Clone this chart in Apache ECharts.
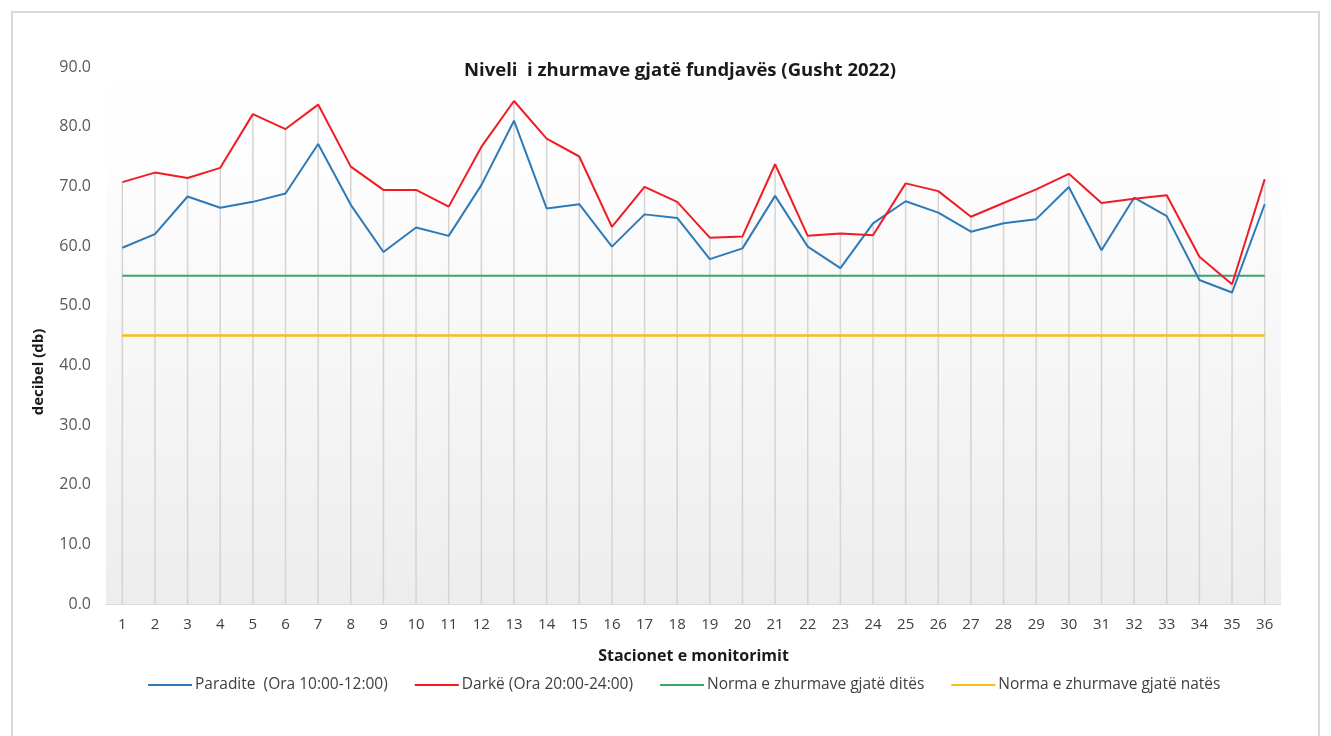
<!DOCTYPE html>
<html>
<head>
<meta charset="utf-8">
<script src="https://cdn.jsdelivr.net/npm/echarts@6/dist/echarts.min.js"></script>
<style>
html,body{margin:0;padding:0;background:#fff;}
#chart{width:1331px;height:736px;}
</style>
</head>
<body>
<div id="chart"></div>
<script>
const stations = ['1','2','3','4','5','6','7','8','9','10','11','12','13','14','15','16','17','18','19','20','21','22','23','24','25','26','27','28','29','30','31','32','33','34','35','36'];
const morning = [59.7,62.0,68.3,66.4,67.4,68.8,77.1,66.9,59.0,63.1,61.7,70.2,81.0,66.3,67.0,59.9,65.3,64.7,57.8,59.6,68.4,59.9,56.3,63.8,67.5,65.6,62.4,63.8,64.5,69.9,59.3,68.1,65.0,54.3,52.2,67.0];
const evening = [70.7,72.3,71.4,73.1,82.1,79.6,83.7,73.3,69.4,69.4,66.6,76.6,84.3,78.0,75.0,63.2,69.9,67.4,61.4,61.6,73.7,61.7,62.1,61.8,70.5,69.2,64.9,67.2,69.5,72.1,67.2,67.9,68.5,58.2,53.6,71.2];
const dayNorm = [55,55,55,55,55,55,55,55,55,55,55,55,55,55,55,55,55,55,55,55,55,55,55,55,55,55,55,55,55,55,55,55,55,55,55,55];
const nightNorm = [45,45,45,45,45,45,45,45,45,45,45,45,45,45,45,45,45,45,45,45,45,45,45,45,45,45,45,45,45,45,45,45,45,45,45,45];
const seriesNames = ['Paradite  (Ora 10:00-12:00)','Darkë (Ora 20:00-24:00)','Norma e zhurmave gjatë ditës','Norma e zhurmave gjatë natës'];
const yTicks = {min:0, max:90, interval:10};

const dropLines = morning.map((v,i)=>Math.max(v, evening[i]));

const FONT = '"Open Sans", Lato, sans-serif';
const chart = echarts.init(document.getElementById('chart'), null, {renderer:'canvas'});
chart.setOption({
  backgroundColor:'#ffffff',
  animation:false,
  textStyle:{fontFamily:FONT},
  graphic:[
    {type:'rect', shape:{x:12,y:12,width:1307,height:740}, style:{fill:'none', stroke:'#d9d9d9', lineWidth:2}, silent:true},
    {type:'text', x:39, y:372, rotation:Math.PI/2, silent:true,
     style:{text:'decibel (db)', fill:'#1a1a1a', font:'bold 15px "Open Sans", Lato, sans-serif', align:'center', verticalAlign:'middle'}}
  ],
  title:{
    text:'Niveli  i zhurmave gjatë fundjavës (Gusht 2022)',
    left:675, top:56, textAlign:'center',
    textStyle:{fontFamily:FONT, fontSize:18.5, fontWeight:'bold', color:'#1a1a1a'}
  },
  legend:{
    data:seriesNames,
    left:143, top:672,
    icon:'rect', itemWidth:44, itemHeight:2, itemGap:27,
    textStyle:{fontFamily:FONT, fontSize:15.5, color:'#404040', padding:[0,0,0,-2]}
  },
  grid:{
    left:106, right:50, top:67, bottom:132,
    show:true, borderWidth:0,
    backgroundColor:{type:'linear', x:0, y:0, x2:0, y2:1, colorStops:[
      {offset:0, color:'#ffffff'},{offset:0.2, color:'#fdfdfd'},{offset:1, color:'#ededed'}]}
  },
  xAxis:{
    type:'category', data:stations, boundaryGap:true,
    name:'Stacionet e monitorimit', nameLocation:'middle', nameGap:44,
    nameTextStyle:{fontFamily:FONT, fontSize:16, fontWeight:'bold', color:'#1a1a1a'},
    axisLine:{show:true, lineStyle:{color:'#d9d9d9', width:1}},
    axisTick:{show:false},
    axisLabel:{margin:13, fontSize:15, color:'#404040', fontFamily:FONT},
    splitLine:{show:false}
  },
  yAxis:{
    type:'value', min:yTicks.min, max:yTicks.max, interval:yTicks.interval,
    axisLine:{show:false}, axisTick:{show:false},
    axisLabel:{margin:15, fontSize:16, color:'#595959', fontFamily:FONT, formatter:v=>v.toFixed(1)},
    splitLine:{show:false}
  },
  series:[
    {name:'drop', type:'bar', data:dropLines, barWidth:1.5, itemStyle:{color:'#d4d4d4'}, silent:true, z:1},
    {name:seriesNames[0], type:'line', data:morning, showSymbol:false, symbol:'none', lineStyle:{color:'#2e7ab9', width:2}, itemStyle:{color:'#2e7ab9'}, z:4},
    {name:seriesNames[1], type:'line', data:evening, showSymbol:false, symbol:'none', lineStyle:{color:'#f01c24', width:2}, itemStyle:{color:'#f01c24'}, z:5},
    {name:seriesNames[2], type:'line', data:dayNorm, showSymbol:false, symbol:'none', lineStyle:{color:'#3aa56c', width:2}, itemStyle:{color:'#3aa56c'}, z:3},
    {name:seriesNames[3], type:'line', data:nightNorm, showSymbol:false, symbol:'none', lineStyle:{color:'#fbbd12', width:2.5}, itemStyle:{color:'#fbbd12'}, z:3}
  ]
});
</script>
</body>
</html>
